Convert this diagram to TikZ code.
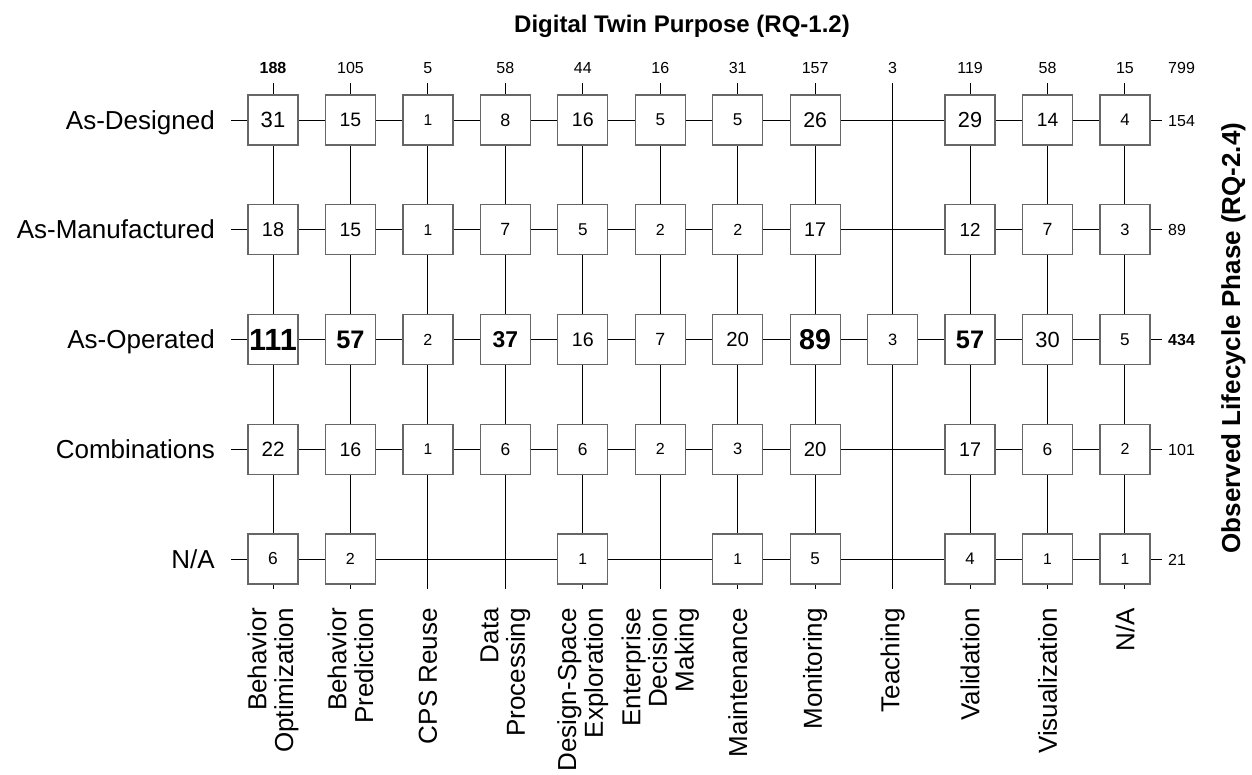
\documentclass[tikz,border=0pt]{standalone}
\usepackage{fontspec}
\setmainfont{Liberation Sans}
\tikzset{
  cell/.style={draw=black!60, fill=white, line width=1.2pt, minimum size=50pt, inner sep=0pt},
  gridline/.style={line width=1pt},
  rowlab/.style={anchor=base east, inner sep=0pt, font=\fontsize{26}{27}\selectfont},
  collab/.style={rotate=90, anchor=east, align=right, inner sep=0pt, font=\fontsize{26}{26.7}\selectfont},
  total/.style={inner sep=0pt},
}

\begin{document}
\begin{tikzpicture}[x=1pt,y=-1pt]
\useasboundingbox (0,0) rectangle (1252,774);

%axis titles
\node[font=\bfseries\fontsize{24}{26}\selectfont, anchor=base] (title) at (682,32) {Digital Twin Purpose (RQ-1.2)};
\node[font=\bfseries\fontsize{26}{28}\selectfont, rotate=90, anchor=base] (phase) at (1240,338) {Observed Lifecycle Phase (RQ-2.4)};

%rows
\foreach \r/\s/\f [count=\i] in {As-Designed/154/\mdseries, As-Manufactured/89/\mdseries, As-Operated/434/\bfseries, Combinations/101/\mdseries, {N/A}/21/\mdseries}{
  \pgfmathsetmacro\y{120+109.75*(\i-1)}
  \node[rowlab] (row-\i) at (215,\y+9) {\r};
  \coordinate (hl-\i) at (231,\y);
  \coordinate (hr-\i) at (1162,\y);
  \draw[gridline] (hl-\i) -- (hr-\i);
  \node[total, anchor=base west, font=\f\fontsize{16}{18}\selectfont] (sum-\i) at (1168,\y+6) {\s};
}

%columns
\foreach \c/\t/\f [count=\j] in {{Behavior\\Optimization}/188/\bfseries, {Behavior\\Prediction}/105/\mdseries, {CPS Reuse}/5/\mdseries, {Data\\Processing}/58/\mdseries, {Design-Space\\Exploration}/44/\mdseries, {Enterprise\\Decision\\Making}/16/\mdseries, Maintenance/31/\mdseries, Monitoring/157/\mdseries, Teaching/3/\mdseries, Validation/119/\mdseries, Visualization/58/\mdseries, {N/A}/15/\mdseries}{
  \pgfmathsetmacro\x{273+77.45*(\j-1)}
  \coordinate (vt-\j) at (\x,83);
  \coordinate (vb-\j) at (\x,589);
  \draw[gridline] (vt-\j) -- (vb-\j);
  \node[total, anchor=base, font=\f\fontsize{16}{18}\selectfont] (top-\j) at (\x,73) {\t};
  \node[collab] (col-\j) at (\x,608) {\c};
}
\node[total, anchor=base west, font=\fontsize{16}{18}\selectfont] (all) at (1168,73) {799};

%cells, 0 = no paper
\foreach \vals [count=\i] in {{31,15,1,8,16,5,5,26,0,29,14,4},
                               {18,15,1,7,5,2,2,17,0,12,7,3},
                               {111,57,2,37,16,7,20,89,3,57,30,5},
                               {22,16,1,6,6,2,3,20,0,17,6,2},
                               {6,2,0,0,1,0,1,5,0,4,1,1}}{
  \foreach \v [count=\j] in \vals {
    \ifnum\v>0
      \pgfmathsetmacro\x{273+77.45*(\j-1)}
      \pgfmathsetmacro\y{120+109.75*(\i-1)}
      \pgfmathsetmacro\fs{14.6+0.95*\v^0.6}
      \ifnum\v>34 \def\w{\bfseries}\else\def\w{\mdseries}\fi
      \node[cell, font=\w\fontsize{\fs}{\fs}\selectfont] (cell-\i-\j) at (\x,\y) {\v};
    \fi
  }
}

\end{tikzpicture}
\end{document}
